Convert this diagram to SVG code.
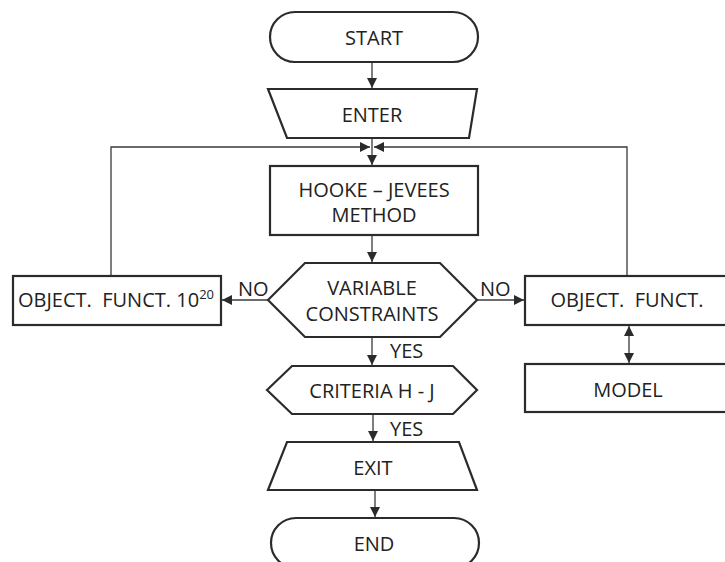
<svg xmlns="http://www.w3.org/2000/svg" width="725" height="562" viewBox="0 0 725 562">
<defs>
<style>
.shape{fill:#fff;stroke:#2b2b2b;stroke-width:2.2}
.conn{fill:none;stroke:#3a3a3a;stroke-width:1.3}
.t{font-family:"Open Sans","Liberation Sans",sans-serif;font-size:20px;fill:#222;text-anchor:middle}
.lbl{font-family:"Open Sans","Liberation Sans",sans-serif;font-size:20px;fill:#222}
</style>
<marker id="ah" viewBox="0 0 10 10" refX="10" refY="5" markerWidth="10" markerHeight="10" markerUnits="userSpaceOnUse" orient="auto-start-reverse">
<path d="M0,0 L10,5 L0,10 z" fill="#2b2b2b"/>
</marker>
</defs>
<rect width="725" height="562" fill="#fff"/>
<g id="connectors">
<line class="conn" x1="372" y1="62" x2="372" y2="88" marker-end="url(#ah)"/>
<line class="conn" x1="372" y1="139" x2="372" y2="165" marker-end="url(#ah)"/>
<polyline class="conn" points="111,276 111,147 370,147" marker-end="url(#ah)"/>
<polyline class="conn" points="627,276 627,147 374,147" marker-end="url(#ah)"/>
<line class="conn" x1="372" y1="235" x2="372" y2="262" marker-end="url(#ah)"/>
<line class="conn" x1="268" y1="300" x2="222" y2="300" marker-end="url(#ah)"/>
<line class="conn" x1="477" y1="300" x2="524" y2="300" marker-end="url(#ah)"/>
<line class="conn" x1="629" y1="326" x2="629" y2="363" marker-start="url(#ah)" marker-end="url(#ah)"/>
<line class="conn" x1="372" y1="337" x2="372" y2="365" marker-end="url(#ah)"/>
<line class="conn" x1="373" y1="414" x2="373" y2="441" marker-end="url(#ah)"/>
<line class="conn" x1="375" y1="490" x2="375" y2="517" marker-end="url(#ah)"/>
<text class="lbl" x="238" y="296">NO</text>
<text class="lbl" x="480" y="296">NO</text>
<text class="lbl" x="390" y="358">YES</text>
<text class="lbl" x="390" y="436">YES</text>
</g>
<g id="start">
<rect class="shape" x="270" y="12" width="208" height="50" rx="25" ry="25"/>
<text class="t" x="374" y="45">START</text>
</g>
<g id="enter">
<polygon class="shape" points="268,89 477,89 469,138 287,138"/>
<text class="t" x="372" y="122">ENTER</text>
</g>
<g id="hooke">
<rect class="shape" x="270" y="166" width="208" height="69"/>
<text class="t" x="374" y="197">HOOKE – JEVEES</text>
<text class="t" x="374" y="222">METHOD</text>
</g>
<g id="variable">
<polygon class="shape" points="268,300 305,263 440,263 477,300 440,337 305,337"/>
<text class="t" x="372" y="295">VARIABLE</text>
<text class="t" x="372" y="321">CONSTRAINTS</text>
</g>
<g id="objleft">
<rect class="shape" x="13" y="276" width="208" height="49"/>
<text class="t" x="116" y="307" xml:space="preserve">OBJECT.  FUNCT. 10<tspan font-size="13" dy="-8">20</tspan></text>
</g>
<g id="objright">
<rect class="shape" x="525" y="276" width="210" height="49"/>
<text class="t" x="627" y="307" xml:space="preserve">OBJECT.  FUNCT.</text>
</g>
<g id="model">
<rect class="shape" x="525" y="364" width="210" height="48"/>
<text class="t" x="628" y="397">MODEL</text>
</g>
<g id="criteria">
<polygon class="shape" points="267,390 292,366 453,366 477,390 453,414 292,414"/>
<text class="t" x="372" y="398">CRITERIA H - J</text>
</g>
<g id="exit">
<polygon class="shape" points="287,442 459,442 477,490 268,490"/>
<text class="t" x="373" y="475">EXIT</text>
</g>
<g id="end">
<rect class="shape" x="271" y="518" width="208" height="50" rx="25" ry="25"/>
<text class="t" x="374" y="551">END</text>
</g>
</svg>
